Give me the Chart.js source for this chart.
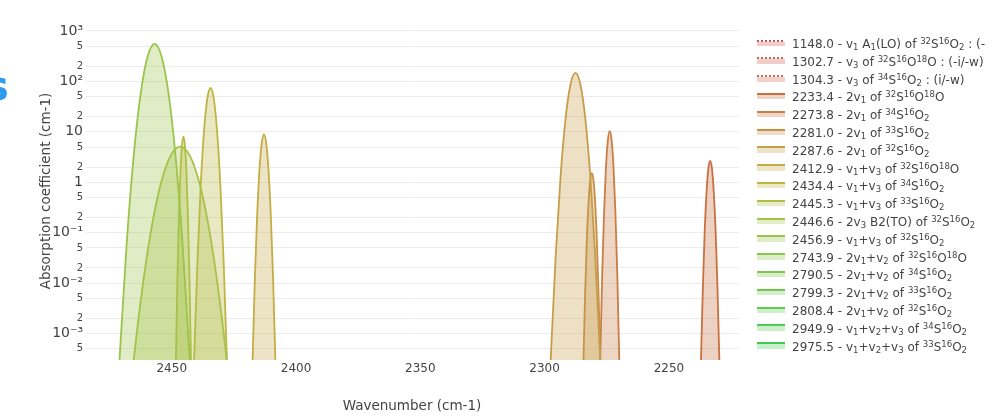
<!DOCTYPE html>
<html>
<head>
<meta charset="utf-8">
<script src="https://cdn.jsdelivr.net/npm/chart.js@4/dist/chart.umd.min.js"></script>
<style>
  html, body { margin: 0; padding: 0; background: #fff; }
  body { width: 999px; height: 419px; overflow: hidden; position: relative;
         font-family: "DejaVu Sans", Verdana, sans-serif; color: #444; }
  #wrap { position: absolute; left: 0; top: 0; width: 999px; height: 419px; }
  .ytitle { position: absolute; left: 45px; top: 191px; transform: translate(-50%, -50%) rotate(-90deg);
            white-space: nowrap; font-size: 13.5px; color: #444; }
  .xtitle { position: absolute; left: 412px; top: 405px; transform: translate(-50%, -50%);
            white-space: nowrap; font-size: 13.5px; color: #444; }
  .head { position: absolute; left: -15px; top: 66px; font-size: 40px; line-height: 40px;
          font-weight: bold; color: #2d9bf0; }
  .row { position: absolute; left: 757px; width: 229px; height: 18px; display: flex; align-items: center;
         white-space: nowrap; overflow: hidden; font-size: 12px; color: #444; }
  .sym { position: relative; flex: none; width: 28px; height: 18px; margin-right: 7px; }
  .sym .ln { position: absolute; left: 0; width: 28px; top: 4.5px; height: 2px; }
  .sym .bd { position: absolute; left: 0; width: 28px; top: 6.5px; height: 4.5px; }
  sup, sub { font-size: 8.5px; line-height: 0; }
  sup { vertical-align: 4px; }
  sub { vertical-align: -2px; }
</style>
</head>
<body>
<div id="wrap"><canvas id="c"></canvas></div>
<div class="head">s</div>
<div class="ytitle">Absorption coefficient (cm-1)</div>
<div class="xtitle">Wavenumber (cm-1)</div>
<div id="legend"></div>
<script>
// Band names (legend order)
const bandNames = [
  '1148.0 - v<sub>1</sub> A<sub>1</sub>(LO) of <sup>32</sup>S<sup>16</sup>O<sub>2</sub> : (-i/-w)',
  '1302.7 - v<sub>3</sub> of <sup>32</sup>S<sup>16</sup>O<sup>18</sup>O : (-i/-w)',
  '1304.3 - v<sub>3</sub> of <sup>34</sup>S<sup>16</sup>O<sub>2</sub> : (i/-w)',
  '2233.4 - 2v<sub>1</sub> of <sup>32</sup>S<sup>16</sup>O<sup>18</sup>O',
  '2273.8 - 2v<sub>1</sub> of <sup>34</sup>S<sup>16</sup>O<sub>2</sub>',
  '2281.0 - 2v<sub>1</sub> of <sup>33</sup>S<sup>16</sup>O<sub>2</sub>',
  '2287.6 - 2v<sub>1</sub> of <sup>32</sup>S<sup>16</sup>O<sub>2</sub>',
  '2412.9 - v<sub>1</sub>+v<sub>3</sub> of <sup>32</sup>S<sup>16</sup>O<sup>18</sup>O',
  '2434.4 - v<sub>1</sub>+v<sub>3</sub> of <sup>34</sup>S<sup>16</sup>O<sub>2</sub>',
  '2445.3 - v<sub>1</sub>+v<sub>3</sub> of <sup>33</sup>S<sup>16</sup>O<sub>2</sub>',
  '2446.6 - 2v<sub>3</sub> B2(TO) of <sup>32</sup>S<sup>16</sup>O<sub>2</sub>',
  '2456.9 - v<sub>1</sub>+v<sub>3</sub> of <sup>32</sup>S<sup>16</sup>O<sub>2</sub>',
  '2743.9 - 2v<sub>1</sub>+v<sub>2</sub> of <sup>32</sup>S<sup>16</sup>O<sup>18</sup>O',
  '2790.5 - 2v<sub>1</sub>+v<sub>2</sub> of <sup>34</sup>S<sup>16</sup>O<sub>2</sub>',
  '2799.3 - 2v<sub>1</sub>+v<sub>2</sub> of <sup>33</sup>S<sup>16</sup>O<sub>2</sub>',
  '2808.4 - 2v<sub>1</sub>+v<sub>2</sub> of <sup>32</sup>S<sup>16</sup>O<sub>2</sub>',
  '2949.9 - v<sub>1</sub>+v<sub>2</sub>+v<sub>3</sub> of <sup>34</sup>S<sup>16</sup>O<sub>2</sub>',
  '2975.5 - v<sub>1</sub>+v<sub>2</sub>+v<sub>3</sub> of <sup>33</sup>S<sup>16</sup>O<sub>2</sub>'
];

// Line colours, red -> green
const bandColors = [
  [214, 82, 82], [212, 92, 78], [212, 102, 80],
  [200, 112, 64], [200, 126, 68], [200, 142, 72], [198, 158, 74],
  [196, 172, 70], [190, 182, 66], [180, 190, 70], [168, 193, 72], [155, 196, 75],
  [140, 197, 78], [125, 198, 78], [110, 200, 80], [95, 201, 80], [80, 201, 80], [65, 201, 82]
];
const dottedBands = [true, true, true, false, false, false, false, false, false,
                     false, false, false, false, false, false, false, false, false];

// Band profiles: wavenumber (cm-1) and absorption coefficient (cm-1)
const wn2233_4 = [2228.98, 2229.72, 2230.46, 2231.19, 2231.93, 2232.66, 2233.4, 2234.14, 2234.87, 2235.61, 2236.34, 2237.08, 2237.82];
const ab2233_4 = [6.1e-6, 3.2e-4, 0.0082, 0.103, 0.62, 1.84, 2.64, 1.84, 0.62, 0.103, 0.0082, 3.2e-4, 6.1e-6];

const wn2273_8 = [2269.22, 2269.98, 2270.74, 2271.51, 2272.27, 2273.04, 2273.8, 2274.56, 2275.33, 2276.09, 2276.86, 2277.62, 2278.38];
const ab2273_8 = [3.3e-6, 3.2e-4, 0.0135, 0.246, 1.96, 6.82, 10.3, 6.82, 1.96, 0.246, 0.0135, 3.2e-4, 3.3e-6];

const wn2281_0 = [2276.97, 2277.64, 2278.31, 2278.98, 2279.66, 2280.33, 2281.0, 2281.67, 2282.34, 2283.02, 2283.69, 2284.36, 2285.03];
const ab2281_0 = [7.8e-6, 3.2e-4, 0.0067, 0.072, 0.39, 1.08, 1.51, 1.08, 0.39, 0.072, 0.0067, 3.2e-4, 7.8e-6];

const wn2287_6 = [2275.67, 2277.66, 2279.65, 2281.64, 2283.62, 2285.61, 2287.6, 2289.59, 2291.58, 2293.56, 2295.55, 2297.54, 2299.53];
const ab2287_6 = [1.0e-6, 3.2e-4, 0.035, 1.35, 18.2, 87, 147, 87, 18.2, 1.35, 0.035, 3.2e-4, 1.0e-6];

const wn2412_9 = [2407.42, 2408.33, 2409.24, 2410.16, 2411.07, 2411.99, 2412.9, 2413.81, 2414.73, 2415.64, 2416.56, 2417.47, 2418.38];
const ab2412_9 = [3.6e-6, 3.2e-4, 0.0128, 0.224, 1.73, 5.9, 8.9, 5.9, 1.73, 0.224, 0.0128, 3.2e-4, 3.6e-6];

const wn2434_4 = [2426.50, 2427.82, 2429.14, 2430.45, 2431.77, 2433.08, 2434.4, 2435.72, 2437.03, 2438.35, 2439.66, 2440.98, 2442.30];
const ab2434_4 = [1.4e-6, 3.2e-4, 0.0274, 0.87, 10.3, 45.2, 74, 45.2, 10.3, 0.87, 0.0274, 3.2e-4, 1.4e-6];

const wn2445_3 = [2441.68, 2442.28, 2442.88, 2443.49, 2444.09, 2444.70, 2445.3, 2445.90, 2446.51, 2447.11, 2447.72, 2448.32, 2448.92];
const ab2445_3 = [3.7e-6, 3.2e-4, 0.0123, 0.209, 1.58, 5.34, 8.0, 5.34, 1.58, 0.209, 0.0123, 3.2e-4, 3.7e-6];

const wn2446_6 = [2424.23, 2427.96, 2431.69, 2435.42, 2439.14, 2442.87, 2446.6, 2450.33, 2454.06, 2457.78, 2461.51, 2465.24, 2468.97];
const ab2446_6 = [4.6e-6, 3.2e-4, 0.0104, 0.157, 1.08, 3.45, 5.08, 3.45, 1.08, 0.157, 0.0104, 3.2e-4, 4.6e-6];

const wn2456_9 = [2439.98, 2442.8, 2445.62, 2448.44, 2451.26, 2454.08, 2456.9, 2459.72, 2462.54, 2465.36, 2468.18, 2471.0, 2473.82];
const ab2456_9 = [5.8e-7, 3.2e-4, 0.0565, 3.15, 55.7, 312, 555, 312, 55.7, 3.15, 0.0565, 3.2e-4, 5.8e-7];

// Bands lying outside the plotted window carry no profile here
const bandWavenumbers = [[], [], [], wn2233_4, wn2273_8, wn2281_0, wn2287_6, wn2412_9,
                         wn2434_4, wn2445_3, wn2446_6, wn2456_9, [], [], [], [], [], []];
const bandAbsorption  = [[], [], [], ab2233_4, ab2273_8, ab2281_0, ab2287_6, ab2412_9,
                         ab2434_4, ab2445_3, ab2446_6, ab2456_9, [], [], [], [], [], []];

// Axis ticks
const xTicks = [2250, 2300, 2350, 2400, 2450];
const yTicks = [5e-4, 1e-3, 2e-3, 5e-3, 1e-2, 2e-2, 5e-2, 0.1, 0.2, 0.5, 1, 2, 5, 10, 20, 50, 100, 200, 500, 1000];
const yTickLabels = ['5', '10⁻³', '2', '5', '10⁻²', '2', '5', '10⁻¹', '2', '5', '1', '2', '5', '10', '2', '5', '10²', '2', '5', '10³'];

const FONT = '"DejaVu Sans", Verdana, sans-serif';
const rgb = (c, a) => a === undefined ? `rgb(${c[0]},${c[1]},${c[2]})` : `rgba(${c[0]},${c[1]},${c[2]},${a})`;
const plain = s => s.replace(/<[^>]+>/g, '');

const datasets = bandNames.map((name, i) => ({
  label: plain(name),
  data: bandWavenumbers[i].map((x, k) => ({ x: x, y: bandAbsorption[i][k] })),
  borderColor: rgb(bandColors[i]),
  backgroundColor: rgb(bandColors[i], 0.32),
  borderWidth: 1.8,
  borderDash: dottedBands[i] ? [2, 2] : [],
  fill: 'start',
  cubicInterpolationMode: 'monotone',
  pointRadius: 0,
  clip: 0,
  order: -i
}));

new Chart(document.getElementById('c'), {
  type: 'line',
  data: { datasets },
  options: {
    responsive: true,
    maintainAspectRatio: false,
    animation: false,
    devicePixelRatio: 1,
    layout: { padding: { top: 22, right: 260, left: 0, bottom: 0 } },
    plugins: { legend: { display: false }, tooltip: { enabled: false } },
    scales: {
      x: {
        type: 'linear',
        reverse: true,
        min: 2221.8,
        max: 2484.5,
        grid: { display: false, drawTicks: false },
        border: { display: false },
        ticks: {
          color: '#444', padding: 2, autoSkip: false, maxRotation: 0,
          font: { family: FONT, size: 12 },
          callback: v => String(v)
        },
        afterBuildTicks: s => { s.ticks = xTicks.map(v => ({ value: v })); },
        afterFit: s => { s.height = 59; }
      },
      y: {
        type: 'logarithmic',
        min: 3.214e-4,
        max: 1505,
        grid: { color: '#ececec', lineWidth: 1, drawTicks: false },
        border: { display: false },
        ticks: {
          color: '#444', padding: 3, autoSkip: false,
          font: ctx => {
            const lbl = yTickLabels[ctx.index];
            const minor = lbl === '2' || lbl === '5';
            return { family: FONT, size: minor ? 10 : 14 };
          },
          callback: (v, idx) => yTickLabels[idx]
        },
        afterBuildTicks: s => { s.ticks = yTicks.map(v => ({ value: v })); },
        afterFit: s => { s.width = 86; }
      }
    }
  }
});

// Legend
const legend = document.getElementById('legend');
bandNames.forEach((name, i) => {
  const row = document.createElement('div');
  row.className = 'row';
  row.style.top = (35 + i * 17.8) + 'px';
  const c = bandColors[i];
  const lineStyle = dottedBands[i]
    ? `background: repeating-linear-gradient(to right, ${rgb(c)} 0 2px, transparent 2px 4px);`
    : `background: ${rgb(c)};`;
  row.innerHTML =
    `<span class="sym"><span class="bd" style="background:${rgb(c, 0.3)}"></span>` +
    `<span class="ln" style="${lineStyle}"></span></span><span>${name}</span>`;
  legend.appendChild(row);
});
</script>
</body>
</html>
